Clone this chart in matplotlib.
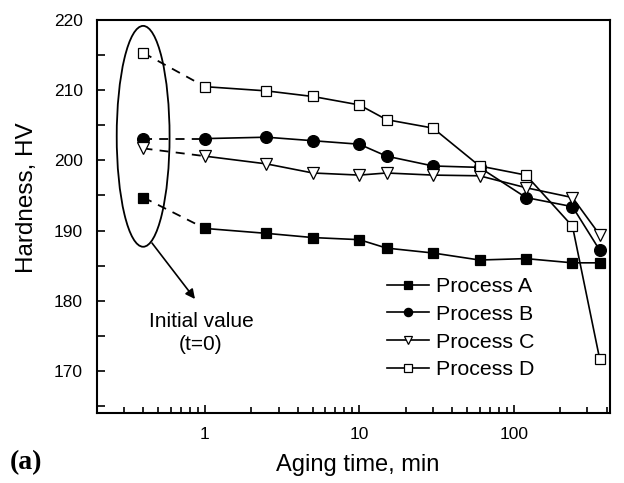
import matplotlib
matplotlib.use('Agg')
import matplotlib.pyplot as plt
from matplotlib.patches import Ellipse
from matplotlib.ticker import MultipleLocator, LogLocator, NullFormatter

plt.rcParams['font.family'] = ['Liberation Sans', 'DejaVu Sans']

# Aging time, min (first point = initial value, drawn at t = 0.4)
t_init = 0.4
t = [1, 2.5, 5, 10, 15, 30, 60, 120, 240, 360]

# Hardness, HV
init_a, init_b, init_c, init_d = 194.7, 203.1, 201.7, 215.3
hv_a = [190.3, 189.6, 189.0, 188.7, 187.5, 186.8, 185.8, 186.0, 185.4, 185.4]
hv_b = [203.1, 203.3, 202.8, 202.3, 200.6, 199.2, 199.0, 194.7, 193.4, 187.2]
hv_c = [200.6, 199.5, 198.2, 197.9, 198.2, 197.9, 197.8, 196.1, 194.7, 189.4]
hv_d = [210.5, 209.9, 209.1, 207.9, 205.8, 204.6, 199.2, 197.9, 190.6, 171.7]

labels = ['Process A', 'Process B', 'Process C', 'Process D']

fig = plt.figure(figsize=(6.24, 4.83), dpi=100)
ax = fig.add_axes([0.1554, 0.1449, 0.8222, 0.8137])

styles = [
    dict(marker='s', mfc='black', ms=7.5),
    dict(marker='o', mfc='black', ms=8.5),
    dict(marker='v', mfc='white', ms=9),
    dict(marker='s', mfc='white', ms=7.5),
]
series = [(init_a, hv_a), (init_b, hv_b), (init_c, hv_c), (init_d, hv_d)]

for (y0, ys), st, lab in zip(series, styles, labels):
    # dashed link from the initial value to the first aged value
    ax.plot([t_init, t[0]], [y0, ys[0]], color='black', lw=1.3,
            ls=(0, (5, 4)), zorder=2)
    ax.plot([t_init], [y0], color='black', ls='none', mec='black',
            mew=0.9, zorder=3, **st)
    ax.plot(t, ys, color='black', lw=1.2, mec='black', mew=0.9,
            label=lab, zorder=3, **st)

ax.set_xscale('log')
ax.set_xlim(0.2, 420)
ax.set_ylim(164, 220)
ax.yaxis.set_major_locator(MultipleLocator(10))
ax.yaxis.set_minor_locator(MultipleLocator(5))
ax.xaxis.set_minor_locator(LogLocator(base=10, subs=range(2, 10), numticks=20))
ax.xaxis.set_minor_formatter(NullFormatter())
ax.set_xticks([1, 10, 100])
ax.set_xticklabels(['1', '10', '100'])

ax.tick_params(which='both', direction='in', top=False, right=False,
               labelsize=12.5, width=1.2, pad=10)
ax.tick_params(which='major', length=6)
ax.tick_params(which='minor', length=4)
ax.tick_params(axis='y', which='minor', length=6)
for s in ax.spines.values():
    s.set_linewidth(1.5)

ax.set_xlabel('Aging time, min', fontsize=17, va='center', ha='center')
ax.xaxis.set_label_coords((358 - 97) / 513, (413 - 465) / 393)
ax.set_ylabel('Hardness, HV', fontsize=17.5, va='center', ha='center')
ax.yaxis.set_label_coords((27 - 97) / 513, (413 - 198) / 393)

# ellipse around initial values
ell = Ellipse((0.090, 0.704), 0.103, 0.562, transform=ax.transAxes,
              fill=False, ec='black', lw=1.3, zorder=4)
ax.add_patch(ell)
ax.annotate('', xy=((195 - 97) / 513, (413 - 299) / 393),
            xytext=((152 - 97) / 513, (413 - 243) / 393),
            xycoords='axes fraction', textcoords='axes fraction',
            arrowprops=dict(arrowstyle='-|>', color='black', lw=1.2,
                            mutation_scale=14, shrinkA=0, shrinkB=0))
ax.text((201 - 97) / 513, (413 - 333) / 393, 'Initial value\n(t=0)',
        transform=ax.transAxes, ha='center', va='center', fontsize=15,
        linespacing=1.3)

leg = ax.legend(loc='upper left', bbox_to_anchor=(0.565, 0.345),
                frameon=False, fontsize=15.4, markerscale=0.7,
                handlelength=1.96, handletextpad=0.33, labelspacing=0.4,
                borderpad=0, borderaxespad=0)

fig.text(10 / 624, 1 - 463 / 483, '(a)', fontsize=20, fontweight='bold',
         family='Liberation Serif', va='center', ha='left')

fig.savefig('out.png', dpi=100)
